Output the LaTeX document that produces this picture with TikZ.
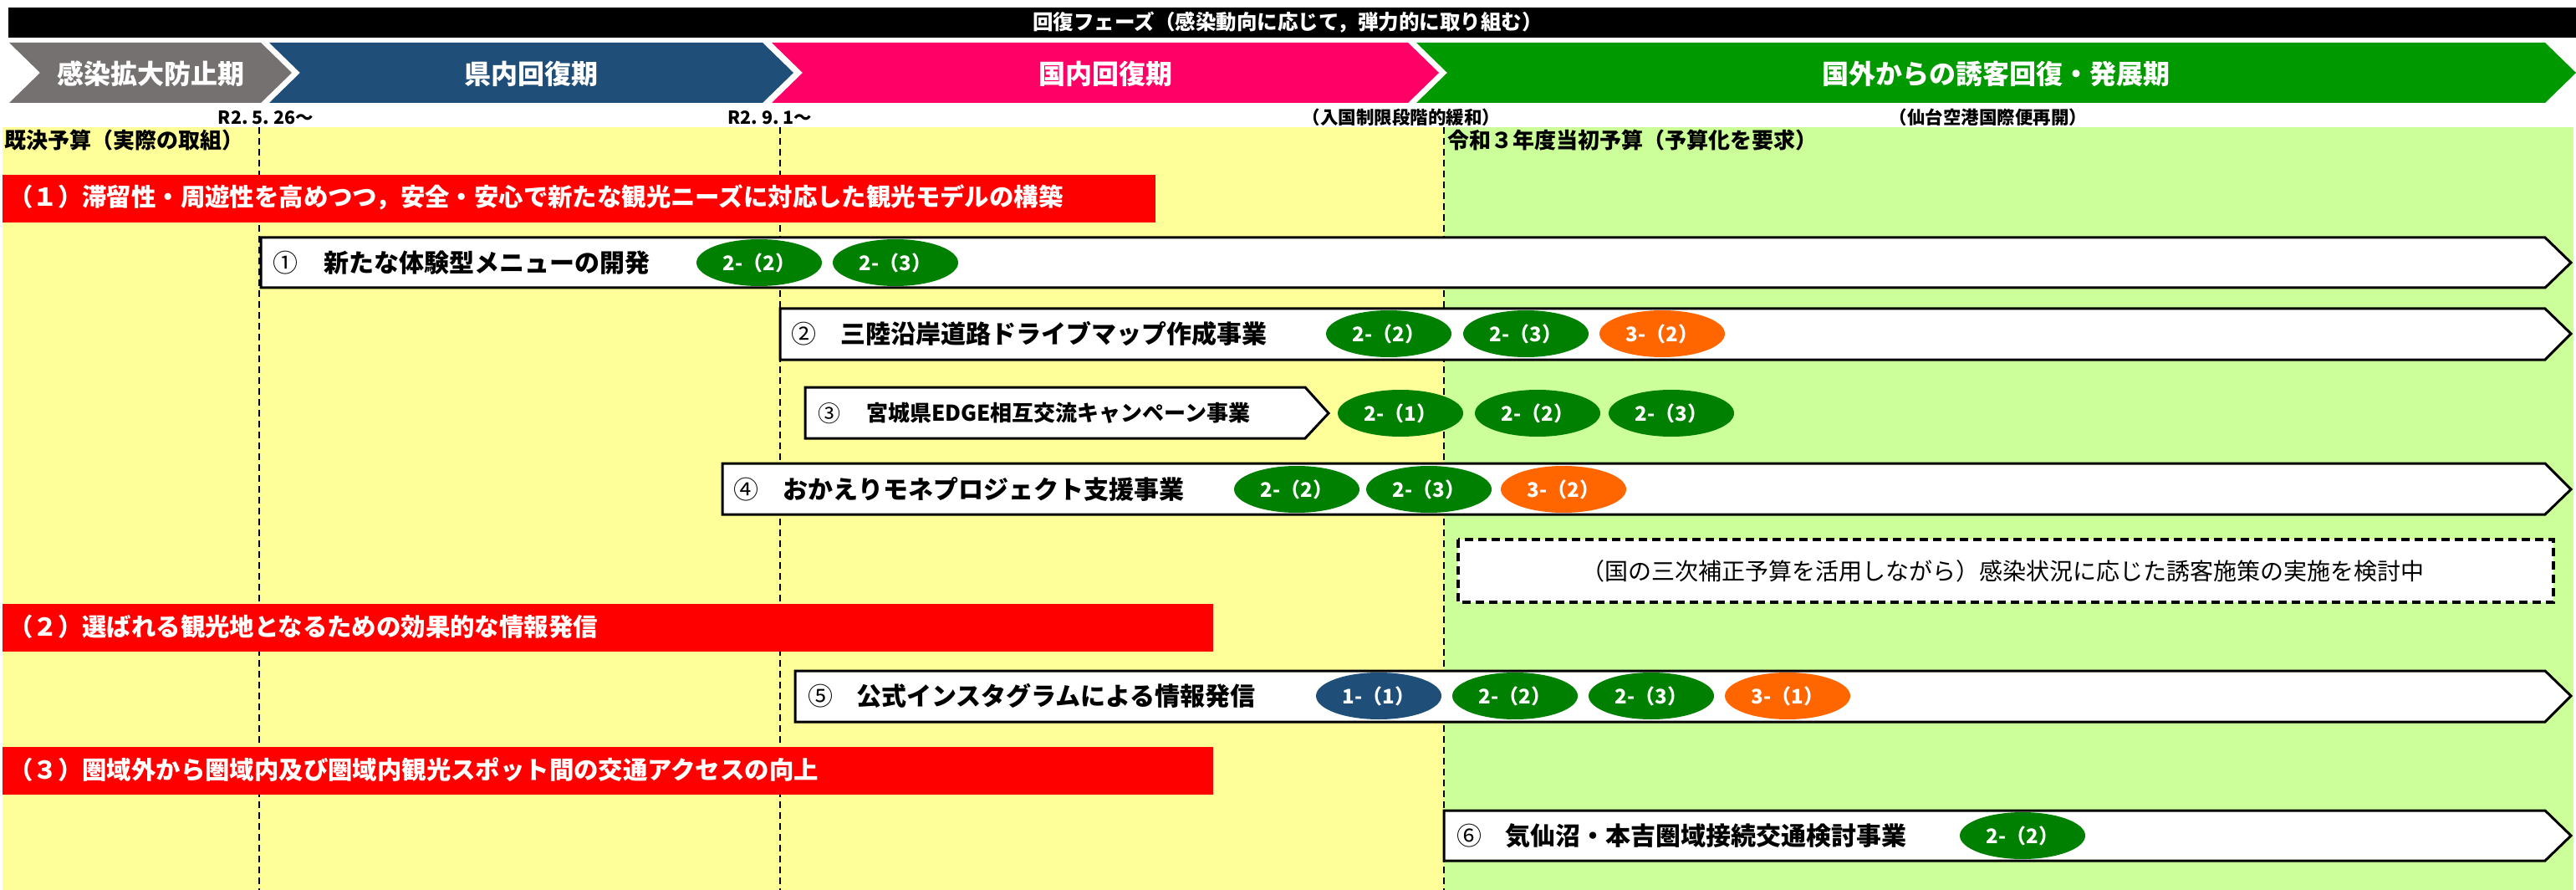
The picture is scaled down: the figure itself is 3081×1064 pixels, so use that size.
\documentclass[tikz,border=0pt]{standalone}
\usepackage{fontspec}
\setmainfont{Noto Sans CJK JP}
\usetikzlibrary{shapes.geometric}

\definecolor{phgrey}{RGB}{118,113,113}
\definecolor{phblue}{RGB}{31,78,121}
\definecolor{phpink}{RGB}{255,0,102}
\definecolor{phgreen}{RGB}{0,153,0}
\definecolor{bgyellow}{RGB}{255,255,153}
\definecolor{bggreen}{RGB}{204,255,153}
\definecolor{bdgreen}{RGB}{0,128,0}
\definecolor{bdorange}{RGB}{255,102,0}
\definecolor{bdblue}{RGB}{31,78,121}

\newcommand{\jfs}[1]{\fontsize{#1pt}{#1pt}\selectfont}

\tikzset{
  phase/.style={font=\bfseries\jfs{32}, text=white, inner sep=0pt},
  datelbl/.style={font=\bfseries\jfs{21.5}, inner sep=0pt},
  budget/.style={anchor=west, font=\bfseries\jfs{26}, inner sep=0pt},
  bartext/.style={anchor=west, font=\bfseries\jfs{29.4}, text=white, inner sep=0pt},
  numtext/.style={anchor=west, font=\jfs{30}, inner sep=0pt},
  projtext/.style={anchor=west, font=\bfseries\jfs{30}, inner sep=0pt},
  projbox/.style={fill=white, draw=black, line width=3pt},
  badge/.style={ellipse, minimum width=150pt, minimum height=56pt, inner sep=0pt,
    text=white, font=\bfseries\jfs{24}},
  dateline/.style={line width=1.5pt, dash pattern=on 8pt off 5pt}
}

\begin{document}
\begin{tikzpicture}[x=1pt, y=-1pt]
    \useasboundingbox (0,0) rectangle (3081,1064);

    % background
    \fill[bgyellow] (3,152) rectangle (1727,1064);
    \fill[bggreen] (1727,152) rectangle (3078,1064);
    \draw[dateline] (310,152) -- (310,1064);
    \draw[dateline] (933,152) -- (933,1064);
    \draw[dateline] (1727,152) -- (1727,1064);

    % phase header
    \fill[black] (10,9) rectangle (3081,45);
    \node[font=\bfseries\jfs{24.5}, text=white] (phasebar) at (1540,27)
        {回復フェーズ（感染動向に応じて，弾力的に取り組む）};

    \foreach \xa/\xb/\col/\nm/\txt in {11/312/phgrey/grey/感染拡大防止期,
        322/912/phblue/blue/県内回復期, 923/1684/phpink/pink/国内回復期,
        1694/3044/phgreen/green/国外からの誘客回復・発展期}
    {
        \fill[\col] (\xa,51) -- (\xb,51) -- (\xb+37,87) -- (\xb,123)
            -- (\xa,123) -- (\xa+37,87) -- cycle;
        \node[phase] (ph\nm) at ({(\xa+\xb+37)/2},88) {\txt};
    }

    \node[datelbl] (date1) at (318,141) {R2.~5.~26〜};
    \node[datelbl] (date2) at (921,141) {R2.~9.~1〜};
    \node[datelbl] (ease) at (1676,140) {（入国制限段階的緩和）};
    \node[datelbl] (flight) at (2378,140) {（仙台空港国際便再開）};

    \node[budget] (budget1) at (5,168) {既決予算（実際の取組）};
    \node[budget] (budget2) at (1731,168) {令和３年度当初予算（予算化を要求）};

    % goals
    \fill[red] (3,209) rectangle (1382,266);
    \node[bartext] (goal1) at (10,236)
        {（１）滞留性・周遊性を高めつつ，安全・安心で新たな観光ニーズに対応した観光モデルの構築};
    \fill[red] (3,722) rectangle (1451,779);
    \node[bartext] (goal2) at (10,749)
        {（２）選ばれる観光地となるための効果的な情報発信};
    \fill[red] (3,893) rectangle (1451,950);
    \node[bartext] (goal3) at (10,920)
        {（３）圏域外から圏域内及び圏域内観光スポット間の交通アクセスの向上};

    % projects
    \draw[projbox] (312,284) -- (3044,284) -- (3075,314) -- (3044,344) -- (312,344) -- cycle;
    \node[numtext] (num1) at (326,314) {①};
    \node[projtext] (proj1) at (387,314) {新たな体験型メニューの開発};
    \node[badge, fill=bdgreen] (b1a) at (908,314) {2-（2）};
    \node[badge, fill=bdgreen] (b1b) at (1071,314) {2-（3）};

    \draw[projbox] (933,369) -- (3044,369) -- (3075,399) -- (3044,430) -- (933,430) -- cycle;
    \node[numtext] (num2) at (946,399) {②};
    \node[projtext] (proj2) at (1005,399) {三陸沿岸道路ドライブマップ作成事業};
    \node[badge, fill=bdgreen] (b2a) at (1661,399) {2-（2）};
    \node[badge, fill=bdgreen] (b2b) at (1825,399) {2-（3）};
    \node[badge, fill=bdorange] (b2c) at (1988,399) {3-（2）};

    \draw[projbox] (963,463) -- (1561,463) -- (1589,494) -- (1561,524) -- (963,524) -- cycle;
    \node[numtext, font=\jfs{27}] (num3) at (978,494) {③};
    \node[projtext, font=\bfseries\jfs{26}] (proj3) at (1036,494) {宮城県EDGE相互交流キャンペーン事業};
    \node[badge, fill=bdgreen] (b3a) at (1675,494) {2-（1）};
    \node[badge, fill=bdgreen] (b3b) at (1839,494) {2-（2）};
    \node[badge, fill=bdgreen] (b3c) at (1999,494) {2-（3）};

    \draw[projbox] (864,554) -- (3044,554) -- (3075,585) -- (3044,615) -- (864,615) -- cycle;
    \node[numtext] (num4) at (877,585) {④};
    \node[projtext] (proj4) at (936,585) {おかえりモネプロジェクト支援事業};
    \node[badge, fill=bdgreen] (b4a) at (1551,585) {2-（2）};
    \node[badge, fill=bdgreen] (b4b) at (1709,585) {2-（3）};
    \node[badge, fill=bdorange] (b4c) at (1870,585) {3-（2）};

    \draw[line width=4pt, dash pattern=on 10pt off 6pt, fill=white] (1744,645) rectangle (3054,720);
    \node[font=\jfs{28}] (review) at (2395,683)
        {（国の三次補正予算を活用しながら）感染状況に応じた誘客施策の実施を検討中};

    \draw[projbox] (951,802) -- (3044,802) -- (3075,832) -- (3044,863) -- (951,863) -- cycle;
    \node[numtext] (num5) at (966,832) {⑤};
    \node[projtext] (proj5) at (1024,832) {公式インスタグラムによる情報発信};
    \node[badge, fill=bdblue] (b5a) at (1649,832) {1-（1）};
    \node[badge, fill=bdgreen] (b5b) at (1812,832) {2-（2）};
    \node[badge, fill=bdgreen] (b5c) at (1975,832) {2-（3）};
    \node[badge, fill=bdorange] (b5d) at (2138,832) {3-（1）};

    \draw[projbox] (1727,969) -- (3044,969) -- (3075,999) -- (3044,1029) -- (1727,1029) -- cycle;
    \node[numtext] (num6) at (1742,999) {⑥};
    \node[projtext] (proj6) at (1800,999) {気仙沼・本吉圏域接続交通検討事業};
    \node[badge, fill=bdgreen] (b6a) at (2419,999) {2-（2）};
\end{tikzpicture}
\end{document}
